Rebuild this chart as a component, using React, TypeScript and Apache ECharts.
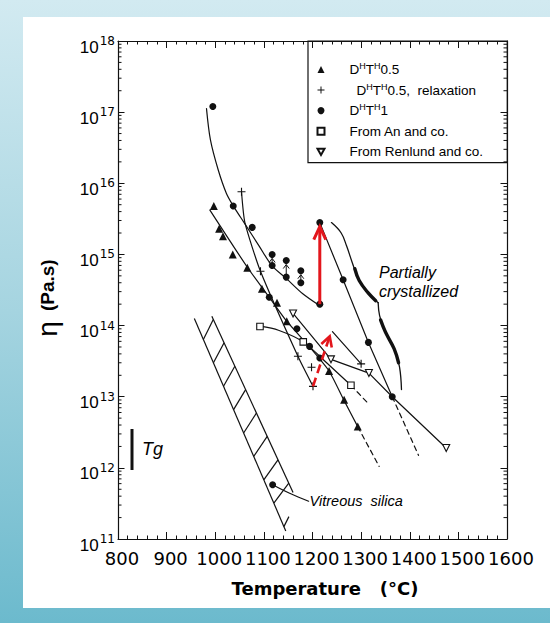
import React, { useEffect, useRef } from "react";
import * as echarts from "echarts";

// ---- axes ----
const TEMP_MIN = 800;
const TEMP_MAX = 1600;
const TEMP_STEP = 100;
const ETA_MIN = 1e11;
const ETA_MAX = 1e18;
const logDecades = [11, 12, 13, 14, 15, 16, 17];
const logMinorMultipliers = [2, 3, 4, 5, 6, 7, 8, 9];

// ---- measured points: [temperature °C, viscosity Pa.s] ----
const dhth05 = [
  [997, 4.8e15], [1008, 2.3e15], [1016, 1.8e15], [1036, 1.0e15], [1066, 6.5e14],
  [1096, 3.3e14], [1127, 2.1e14], [1147, 1.15e14], [1234, 2.3e13], [1265, 9.1e12],
  [1293, 3.8e12],
];
const dhth05Relax = [
  [1054, 7.6e15], [1093, 5.8e14], [1170, 3.7e13], [1198, 2.6e13], [1201, 1.4e13],
  [1300, 2.9e13],
];
const dhth1 = [
  [995, 1.2e17], [1037, 4.8e15], [1076, 2.4e15], [1117, 1.0e15], [1117, 7.0e14],
  [1146, 8.2e14], [1146, 4.8e14], [1176, 5.9e14], [1176, 4.0e14], [1215, 2.8e15],
  [1215, 2.0e14], [1263, 4.4e14], [1315, 5.8e13], [1364, 1.0e13], [1111, 2.5e14],
  [1168, 9.0e13], [1194, 5.1e13], [1215, 3.5e13], [1118, 5.8e11],
];
const anData = [[1092, 9.7e13], [1181, 5.9e13], [1279, 1.45e13]];
const renlundData = [[1160, 1.48e14], [1238, 3.35e13], [1316, 2.15e13], [1475, 1.9e12]];

// ---- fitted curves ----
const dhth1Curve = [
  [982, 1.12e17], [990, 4.1e16], [1006, 1.55e16], [1023, 7.2e15], [1038, 4.7e15],
  [1060, 2.75e15], [1090, 1.32e15], [1117, 6.9e14], [1146, 4.6e14], [1180, 2.8e14],
  [1215, 1.9e14],
];
const dhth1Upper = [[1215, 2.8e15], [1263, 4.4e14], [1315, 5.8e13], [1364, 1.0e13]];
const dhth1UpperDashed = [[1364, 1.0e13], [1418, 1.5e12]];
const dhth05Fit = [
  [989, 4.2e15], [1066, 6.6e14], [1111, 2.5e14], [1146, 1.17e14], [1194, 5.0e13],
  [1234, 2.3e13], [1264, 9.1e12], [1293, 3.8e12],
];
const dhth05FitDashed = [[1293, 3.8e12], [1337, 1.05e12]];
const relaxFit = [[1054, 7.6e15], [1061, 2.8e15], [1093, 5.8e14], [1170, 3.7e13], [1201, 1.4e13]];
const relaxFitHigh = [[1241, 8.2e13], [1300, 2.9e13]];
const anFit = [[1092, 9.8e13], [1130, 8.6e13], [1181, 5.9e13], [1229, 3.0e13], [1279, 1.45e13]];
const anFitDashed = [[1279, 1.45e13], [1314, 8.1e12]];
const renlundFit = [[1160, 1.48e14], [1238, 3.35e13], [1316, 2.15e13], [1364, 1.0e13], [1475, 1.9e12]];

// vitreous silica band edges and its leader line
const silicaLeft = [[957, 1.26e14], [1145, 1.3e11]];
const silicaRight = [[993, 1.35e14], [1160, 4.5e11]];
const silicaLeader = [[1118, 5.8e11], [1153, 4.4e11], [1192, 3.4e11]];

// brace around the partially crystallized range
const braceUpper = [
  [1239, 2.8e15], [1259, 2.0e15], [1270, 1.32e15], [1282, 7.6e14], [1294, 4.6e14],
  [1314, 2.9e14], [1335, 2.1e14],
];
const braceLower = [
  [1335, 2.1e14], [1338, 1.38e14], [1348, 8.7e13], [1369, 4.6e13], [1379, 2.6e13],
  [1383, 1.26e13],
];
const braceUpperBold = [[1287, 6.3e14], [1296, 4.3e14], [1314, 2.9e14], [1330, 2.24e14]];
const braceLowerBold = [[1340, 1.2e14], [1350, 8.1e13], [1368, 4.7e13], [1377, 3.0e13]];

// arrows: [x1, y1, x2, y2]
const pairArrows = [[1117, 7.0e14, 1117, 1.0e15], [1146, 4.8e14, 1146, 8.2e14], [1176, 4.0e14, 1176, 5.9e14]];
const jumpArrow = [[1215, 2.0e14, 1215, 2.8e15]];
const relaxArrow = [[1201, 1.4e13, 1238, 8.0e13]];

const INK = "#111";
const RED = "#e3161c";
const SANS = "Liberation Sans";
const WIDE = "DejaVu Sans";

const plusPath = "path://M4.3,0h1.4v4.3h4.3v1.4h-4.3v4.3h-1.4v-4.3h-4.3v-1.4h4.3z";
const downTriPath = "path://M0,0L10,0L5,9Z";

const legendText: Record<string, string> = {
  "DHTH0.5": "{p| }D{h|H}T{h|H}0.5",
  "DHTH0.5 relaxation": "{q| }D{h|H}T{h|H}0.5,  relaxation",
  "DHTH1": "{p| }D{h|H}T{h|H}1",
  "An": "{p| }From An and co.",
  "Renlund": "{p| }From Renlund and co.",
};

function curve(data: number[][], opts: { width?: number; dashed?: boolean; smooth?: number } = {}) {
  return {
    type: "line",
    data,
    symbol: "none",
    showSymbol: false,
    smooth: opts.smooth ?? 0.3,
    silent: true,
    z: 3,
    lineStyle: {
      color: INK,
      width: opts.width ?? 1.2,
      type: opts.dashed ? [5, 4] : "solid",
      cap: "round",
    },
  };
}

function arrows(data: number[][], color: string, width: number, head: number, half: number, dash?: number[]) {
  return {
    type: "custom",
    data,
    encode: { x: [0, 2], y: [1, 3] },
    silent: true,
    z: 6,
    renderItem: (_p: any, api: any) => {
      const a = api.coord([api.value(0), api.value(1)]);
      const b = api.coord([api.value(2), api.value(3)]);
      const dx = b[0] - a[0];
      const dy = b[1] - a[1];
      const len = Math.hypot(dx, dy) || 1;
      const ux = dx / len;
      const uy = dy / len;
      const tip = [b[0] - ux * 4, b[1] - uy * 4];
      const base = [tip[0] - ux * head, tip[1] - uy * head];
      const nx = -uy;
      const ny = ux;
      return {
        type: "group",
        children: [
          {
            type: "line",
            shape: { x1: a[0], y1: a[1], x2: tip[0], y2: tip[1] },
            style: { stroke: color, lineWidth: width, lineDash: dash, lineCap: "butt" },
          },
          {
            type: "polyline",
            shape: {
              points: [
                [base[0] + nx * half, base[1] + ny * half],
                tip,
                [base[0] - nx * half, base[1] - ny * half],
              ],
            },
            style: { stroke: color, lineWidth: width, fill: "none", lineJoin: "miter" },
          },
        ],
      };
    },
  };
}

function buildOption() {
  const minorLogTicks: number[][] = [];
  logDecades.forEach((d) => logMinorMultipliers.forEach((m) => minorLogTicks.push([TEMP_MIN, m * Math.pow(10, d)])));

  const xBase = {
    type: "value",
    min: TEMP_MIN,
    max: TEMP_MAX,
    interval: TEMP_STEP,
    axisLine: { show: true, onZero: false, lineStyle: { color: INK, width: 1.2 } },
    axisTick: { show: true, inside: true, length: 7, lineStyle: { color: INK, width: 1 } },
    minorTick: { show: true, splitNumber: 5, length: 3.5, lineStyle: { color: INK, width: 1 } },
    splitLine: { show: false },
    minorSplitLine: { show: false },
  };
  const yBase = {
    type: "log",
    logBase: 10,
    min: ETA_MIN,
    max: ETA_MAX,
    splitNumber: 7,
    axisLine: { show: true, onZero: false, lineStyle: { color: INK, width: 1.2 } },
    axisTick: { show: true, inside: true, length: 6.5, lineStyle: { color: INK, width: 1 } },
    splitLine: { show: false },
  };

  const solid = (color: string) => ({ color, opacity: 1 });

  return {
    animation: false,
    backgroundColor: "transparent",
    grid: { left: 118, right: 43, top: 41, bottom: 84, containLabel: false },
    xAxis: [
      {
        ...xBase,
        position: "bottom",
        axisLabel: {
          show: true,
          showMinLabel: true,
          showMaxLabel: true,
          hideOverlap: false,
          margin: 10,
          color: "#000",
          fontFamily: WIDE,
          fontSize: 18,
          padding: [0, 0, 0, 8],
          formatter: (v: number) => String(Math.round(v)),
        },
      },
      { ...xBase, position: "top", axisLabel: { show: false } },
    ],
    yAxis: [
      {
        ...yBase,
        position: "left",
        axisLabel: {
          show: true,
          margin: 3,
          showMinLabel: true,
          showMaxLabel: true,
          formatter: (v: number) => `{b|10}{s|${Math.round(Math.log10(v))}}`,
          rich: {
            b: { fontFamily: SANS, fontSize: 17, lineHeight: 17, color: "#000", padding: [12, 0, 0, 0] },
            s: { fontFamily: WIDE, fontSize: 12, lineHeight: 12, color: "#000", padding: [0, 0, 0, 1] },
          },
        },
      },
      { ...yBase, position: "right", axisLabel: { show: false } },
    ],
    legend: {
      orient: "vertical",
      left: 316.5,
      top: 61.4,
      padding: 0,
      itemWidth: 7,
      itemHeight: 7,
      itemGap: 4.6,
      selectedMode: false,
      data: ["DHTH0.5", "DHTH0.5 relaxation", "DHTH1", "An", "Renlund"],
      formatter: (name: string) => legendText[name] ?? name,
      textStyle: {
        color: "#000",
        fontFamily: SANS,
        fontSize: 13.5,
        lineHeight: 16,
        rich: {
          p: { width: 20, lineHeight: 16 },
          q: { width: 27, lineHeight: 16 },
          h: { fontSize: 9, lineHeight: 9, padding: [0, 0, 7, 0], fontFamily: SANS },
        },
      },
    },
    graphic: [
      {
        type: "rect",
        silent: true,
        shape: { x: 308, y: 41, width: 199.3, height: 121.6 },
        style: { fill: "none", stroke: INK, lineWidth: 1.2 },
      },
      {
        type: "text",
        x: 325,
        y: 588,
        style: {
          text: "Temperature   (°C)",
          fontFamily: WIDE,
          fontWeight: "bold",
          fontSize: 18,
          fill: "#000",
          align: "center",
          verticalAlign: "middle",
        },
      },
      {
        type: "text",
        x: 47,
        y: 298,
        rotation: Math.PI / 2,
        style: {
          text: "{e|η}   {u|(Pa.s)}",
          fill: "#000",
          align: "center",
          verticalAlign: "middle",
          rich: {
            e: { fontFamily: SANS, fontSize: 28, fill: "#000" },
            u: { fontFamily: SANS, fontSize: 19, fontWeight: "bold", fill: "#000" },
          },
        },
      },
      {
        type: "line",
        shape: { x1: 132, y1: 429, x2: 132, y2: 470 },
        style: { stroke: INK, lineWidth: 3 },
      },
      {
        type: "text",
        x: 142,
        y: 449,
        style: { text: "Tg", fontFamily: SANS, fontStyle: "italic", fontSize: 18, fill: "#000", verticalAlign: "middle" },
      },
      {
        type: "text",
        x: 379,
        y: 282,
        style: {
          text: "Partially\ncrystallized",
          fontFamily: SANS,
          fontStyle: "italic",
          fontSize: 16,
          lineHeight: 18.6,
          fill: "#000",
          verticalAlign: "middle",
        },
      },
    ],
    series: [
      // log-spaced minor ticks on both vertical axes
      {
        type: "custom",
        data: minorLogTicks,
        encode: { x: 0, y: 1 },
        silent: true,
        clip: false,
        z: 5,
        renderItem: (_p: any, api: any) => {
          const v = api.value(1);
          const l = api.coord([TEMP_MIN, v]);
          const r = api.coord([TEMP_MAX, v]);
          return {
            type: "group",
            children: [
              { type: "line", shape: { x1: l[0], y1: l[1], x2: l[0] + 3.5, y2: l[1] }, style: { stroke: INK, lineWidth: 1 } },
              { type: "line", shape: { x1: r[0], y1: r[1], x2: r[0] - 3.5, y2: r[1] }, style: { stroke: INK, lineWidth: 1 } },
            ],
          };
        },
      },
      // hatched band for vitreous silica
      {
        type: "custom",
        data: [[silicaLeft[0][0], silicaLeft[0][1]]],
        encode: { x: 0, y: 1 },
        silent: true,
        z: 3,
        renderItem: (_p: any, api: any) => {
          const L = silicaLeft.map((p) => api.coord(p));
          const R = silicaRight.map((p) => api.coord(p));
          const xAt = (A: number[], B: number[], y: number) => A[0] + ((B[0] - A[0]) * (y - A[1])) / (B[1] - A[1]);
          const st = { stroke: INK, lineWidth: 1.2 };
          const children: any[] = [
            { type: "line", shape: { x1: L[0][0], y1: L[0][1], x2: L[1][0], y2: L[1][1] }, style: st },
            { type: "line", shape: { x1: R[0][0], y1: R[0][1], x2: R[1][0], y2: R[1][1] }, style: st },
          ];
          for (let i = 0; i < 9; i++) {
            const y0 = L[0][1] + 21 + 23.4 * i;
            const x0 = xAt(L[0], L[1], y0);
            const y1 = y0 - 20;
            if (y1 <= R[1][1]) {
              children.push({ type: "line", shape: { x1: x0, y1: y0, x2: xAt(R[0], R[1], y1), y2: y1 }, style: st });
            } else {
              children.push({ type: "line", shape: { x1: x0, y1: y0, x2: x0 + 5, y2: y0 - 10 }, style: st });
            }
          }
          return { type: "group", children };
        },
      },
      curve(dhth1Curve),
      curve(dhth1Upper, { smooth: 0 }),
      curve(dhth1UpperDashed, { dashed: true, smooth: 0 }),
      curve(dhth05Fit, { smooth: 0.2 }),
      curve(dhth05FitDashed, { dashed: true, smooth: 0 }),
      curve(relaxFit, { smooth: 0.2 }),
      curve(relaxFitHigh, { smooth: 0 }),
      curve(anFit),
      curve(anFitDashed, { dashed: true, smooth: 0 }),
      curve(renlundFit, { smooth: 0 }),
      curve(silicaLeader, { smooth: 0.4 }),
      curve(braceUpper, { smooth: 0.4, width: 1.3 }),
      curve(braceLower, { smooth: 0.4, width: 1.3 }),
      curve(braceUpperBold, { smooth: 0.4, width: 3.4 }),
      curve(braceLowerBold, { smooth: 0.4, width: 3.4 }),
      arrows(pairArrows, INK, 1, 4, 3),
      arrows(jumpArrow, RED, 3, 13, 6),
      arrows(relaxArrow, RED, 2.6, 10, 5.5, [9, 5]),
      {
        name: "DHTH0.5",
        type: "scatter",
        data: dhth05,
        symbol: "triangle",
        symbolSize: 8,
        z: 5,
        itemStyle: solid(INK),
        silent: true,
      },
      {
        name: "DHTH0.5 relaxation",
        type: "scatter",
        data: dhth05Relax,
        symbol: plusPath,
        symbolSize: 8,
        z: 5,
        itemStyle: solid(INK),
        silent: true,
      },
      {
        name: "DHTH1",
        type: "scatter",
        data: dhth1,
        symbol: "circle",
        symbolSize: 7,
        z: 5,
        itemStyle: solid(INK),
        silent: true,
      },
      {
        name: "An",
        type: "scatter",
        data: anData,
        symbol: "rect",
        symbolSize: 6.5,
        z: 5,
        itemStyle: { color: "#fff", borderColor: INK, borderWidth: 1.1, opacity: 1 },
        silent: true,
      },
      {
        name: "Renlund",
        type: "scatter",
        data: renlundData,
        symbol: downTriPath,
        symbolSize: 7,
        z: 5,
        itemStyle: { color: "#fff", borderColor: INK, borderWidth: 1.1, opacity: 1 },
        silent: true,
      },
      {
        type: "scatter",
        data: [silicaLeader[silicaLeader.length - 1]],
        symbolSize: 0,
        silent: true,
        z: 5,
        itemStyle: { opacity: 1 },
        label: {
          show: true,
          position: "right",
          distance: 1,
          formatter: "Vitreous  silica",
          fontFamily: SANS,
          fontStyle: "italic",
          fontSize: 14.5,
          color: "#000",
          opacity: 1,
        },
      },
    ],
  };
}

export default function App() {
  const ref = useRef<HTMLDivElement>(null);
  useEffect(() => {
    if (!ref.current) return;
    const chart = echarts.init(ref.current, null, { renderer: "svg" });
    chart.setOption(buildOption() as any);
    return () => chart.dispose();
  }, []);
  return (
    <div
      style={{
        position: "fixed",
        left: 0,
        top: 0,
        width: 550,
        height: 623,
        overflow: "hidden",
        background: "linear-gradient(180deg, #d2eaf1 0%, #a5d4e0 50%, #6cbacd 100%)",
      }}
    >
      <div style={{ position: "absolute", left: 23, top: 17, right: 0, bottom: 15, background: "#fff" }} />
      <div ref={ref} style={{ position: "absolute", left: 0, top: 0, width: 550, height: 623 }} />
    </div>
  );
}
